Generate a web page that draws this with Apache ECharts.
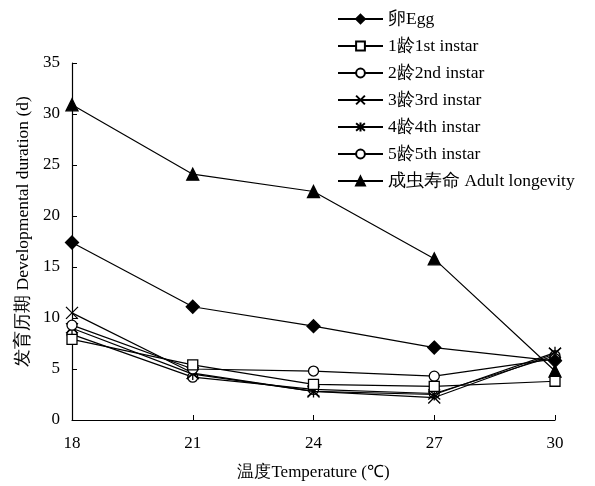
<!DOCTYPE html>
<html>
<head>
<meta charset="utf-8">
<script src="https://cdn.jsdelivr.net/npm/echarts@6/dist/echarts.min.js"></script>
<style>html,body{margin:0;padding:0;background:#fff}#c{width:595px;height:486px}</style>
</head>
<body>
<div id="c"></div>
<script>
const temperatures = [18, 21, 24, 27, 30];
const seriesNames = ['卵Egg', '1龄1st instar', '2龄2nd instar', '3龄3rd instar', '4龄4th instar', '5龄5th instar', '成虫寿命 Adult longevity'];
const egg = [17.4, 11.1, 9.2, 7.1, 5.8];
const instar1 = [7.9, 5.4, 3.5, 3.3, 3.8];
const instar2 = [9.3, 5.0, 4.8, 4.3, 6.0];
const instar3 = [10.5, 4.6, 2.8, 2.2, 6.5];
const instar4 = [9.0, 4.5, 2.8, 2.5, 6.6];
const instar5 = [8.4, 4.2, 3.0, 2.6, 6.3];
const adult = [30.9, 24.1, 22.4, 15.8, 4.8];
const yTicks = [0, 5, 10, 15, 20, 25, 30, 35];
const xTicks = [18, 21, 24, 27, 30];

const allValues = [egg, instar1, instar2, instar3, instar4, instar5, adult];
const symbols = [
  {symbol: 'diamond', size: 13, fill: '#000'},
  {symbol: 'rect', size: 10, fill: '#fff'},
  {symbol: 'circle', size: 10, fill: '#fff'},
  {symbol: 'path://M0,0L10,10M10,0L0,10', size: 12, fill: '#000'},
  {symbol: 'path://M0,0L10,10M10,0L0,10M5,-1L5,11', size: 12, fill: '#000'},
  {symbol: 'circle', size: 10, fill: '#fff'},
  {symbol: 'triangle', size: 12, fill: '#000'}
];
const font = 'Liberation Serif, Times New Roman, serif';

const series = allValues.map((vals, i) => ({
  name: seriesNames[i],
  type: 'line',
  data: temperatures.map((t, j) => [t, vals[j]]),
  symbol: symbols[i].symbol,
  symbolSize: symbols[i].size,
  showAllSymbol: true,
  z: 10 - i,
  lineStyle: {color: '#000', width: 1.2},
  itemStyle: {color: symbols[i].fill, borderColor: '#000', borderWidth: 1.3, opacity: 1},
  emphasis: {disabled: true}
}));

const chart = echarts.init(document.getElementById('c'), null, {renderer: 'canvas'});
chart.setOption({
  animation: false,
  backgroundColor: '#fff',
  textStyle: {fontFamily: font, color: '#000'},
  grid: {left: 72, right: 40, top: 63, bottom: 65, containLabel: false},
  legend: {
    orient: 'vertical',
    left: 332,
    top: 5,
    padding: [5, 5, 5, 5],
    itemWidth: 45,
    itemHeight: 11,
    itemGap: 9,
    data: seriesNames,
    textStyle: {fontFamily: font, fontSize: 17.5, lineHeight: 18, color: '#000', padding: [0, 0, 0, 0]},
    selectedMode: false
  },
  xAxis: {
    type: 'value',
    min: xTicks[0],
    max: xTicks[xTicks.length - 1],
    interval: 3,
    name: '温度Temperature (℃)',
    nameLocation: 'middle',
    nameGap: 44,
    nameTextStyle: {fontFamily: font, fontSize: 17, color: '#000'},
    axisLine: {lineStyle: {color: '#000', width: 1.2}},
    axisTick: {inside: true, length: 5, lineStyle: {color: '#000'}},
    axisLabel: {fontFamily: font, fontSize: 17, color: '#000', margin: 15},
    splitLine: {show: false}
  },
  yAxis: {
    type: 'value',
    min: yTicks[0],
    max: yTicks[yTicks.length - 1],
    interval: 5,
    name: '发育历期 Developmental duration (d)',
    nameLocation: 'middle',
    nameGap: 40,
    nameTextStyle: {fontFamily: font, fontSize: 17.5, color: '#000', padding: [0, 0, 0, 20]},
    axisLine: {show: true, lineStyle: {color: '#000', width: 1.2}},
    axisTick: {show: true, inside: true, length: 5, lineStyle: {color: '#000'}},
    axisLabel: {fontFamily: font, fontSize: 17, color: '#000', margin: 12},
    splitLine: {show: false}
  },
  series: series
});
</script>
</body>
</html>
